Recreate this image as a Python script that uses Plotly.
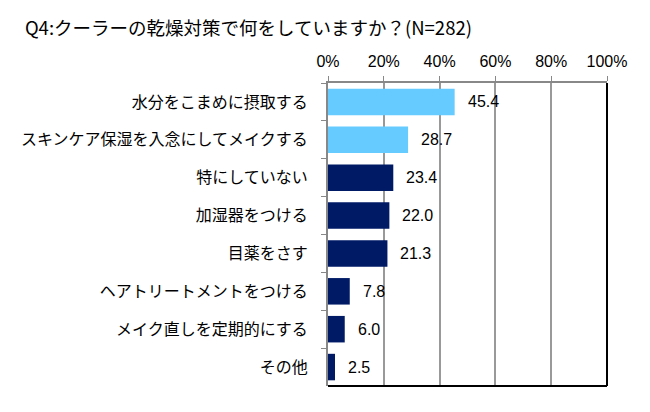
import plotly.graph_objects as go

categories = ["水分をこまめに摂取する", "スキンケア保湿を入念にしてメイクする", "特にしていない",
              "加湿器をつける", "目薬をさす", "ヘアトリートメントをつける",
              "メイク直しを定期的にする", "その他"]
values = [45.4, 28.7, 23.4, 22.0, 21.3, 7.8, 6.0, 2.5]
bar_colors = ["#66CCFF", "#66CCFF", "#001A66", "#001A66", "#001A66", "#001A66", "#001A66", "#001A66"]
tick_vals = [0, 20, 40, 60, 80, 100]
tick_text = ["0%", "20%", "40%", "60%", "80%", "100%"]
title_text = "Q4:クーラーの乾燥対策で何をしていますか？(N=282)"

font_family = "Noto Sans CJK JP, Liberation Sans, sans-serif"
num_font = "Liberation Sans, Arial, sans-serif"

fig = go.Figure(go.Bar(
    y=categories, x=values, orientation="h",
    marker=dict(color=bar_colors, line=dict(width=0)),
    hoverinfo="skip",
))

for c, v in zip(categories, values):
    fig.add_annotation(x=v, y=c, text=f"{v:.1f}", showarrow=False,
                       xanchor="left", xshift=11,
                       font=dict(family=num_font, size=16, color="#000"))

fig.update_layout(
    width=650, height=412,
    margin=dict(l=320, r=51, t=75, b=34),
    paper_bgcolor="white", plot_bgcolor="white",
    bargap=0.3, showlegend=False,
    title=dict(text=title_text, x=0.026, xanchor="left", y=0.949, yanchor="middle",
               font=dict(family=font_family, size=18.5, color="#000")),
    font=dict(family=font_family, color="#000"),
)
fig.update_xaxes(
    side="top", range=[0, 100], tickvals=tick_vals, ticktext=tick_text,
    showgrid=True, gridcolor="#999999", gridwidth=1.5,
    showline=True, linecolor="#888888", linewidth=2,
    ticks="outside", ticklen=5, tickcolor="#888888",
    tickfont=dict(family=num_font, size=16, color="#000"),
    ticklabelstandoff=3,
    mirror=False, zeroline=False, fixedrange=True, automargin=False,
)
fig.update_yaxes(
    autorange="reversed", tickson="boundaries",
    showline=True, linecolor="#888888", linewidth=2,
    ticks="outside", ticklen=5, tickcolor="#888888",
    tickfont=dict(family=font_family, size=16, color="#000"),
    ticklabelstandoff=15,
    showgrid=False, fixedrange=True, automargin=False,
)
# right and bottom black border
fig.add_shape(type="line", xref="paper", yref="paper", x0=1, x1=1, y0=0, y1=1,
              line=dict(color="#000", width=2))
fig.add_shape(type="line", xref="paper", yref="paper", x0=0, x1=1, y0=0, y1=0,
              line=dict(color="#000", width=2))

fig.write_html("out.html")
